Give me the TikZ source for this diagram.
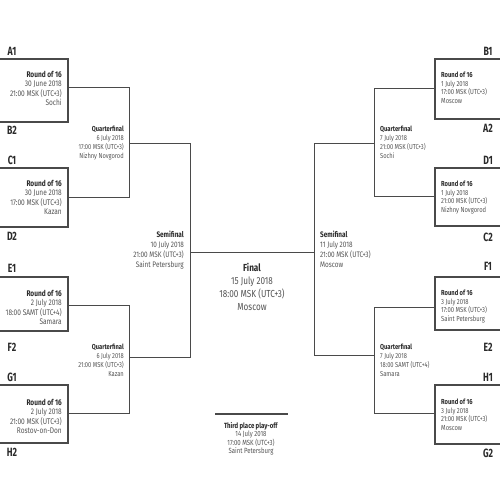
\documentclass[tikz,border=0pt]{standalone}
\usepackage{fontspec}
\setmainfont{Fira Sans}[FakeStretch=0.8]
\newfontfamily\labfont{Fira Sans}[FakeStretch=0.72]
\definecolor{ln}{HTML}{4A4A4A}
\definecolor{tx}{HTML}{555555}
\definecolor{hd}{HTML}{2A2A2A}
\newcommand{\hdr}[1]{\textcolor{hd}{\textbf{#1}}}
\tikzset{
  boxline/.style={draw=ln, line width=1.4pt},
  conn/.style={draw=ln, line width=1.0pt},
  lab/.style={inner sep=0pt, text=hd, font={\labfont\bfseries\fontsize{12}{12}\selectfont}},
  rl/.style={inner sep=0pt, text=tx, align=right, anchor=north east, font={\fontsize{8.2}{9.3}\selectfont}},
  ql/.style={inner sep=0pt, text=tx, align=right, anchor=north east, font={\fontsize{7.2}{9}\selectfont}},
  sl/.style={inner sep=0pt, text=tx, align=right, anchor=north east, font={\fontsize{8}{10}\selectfont}},
  rr/.style={inner sep=0pt, text=tx, align=left, anchor=north west, font={\fontsize{7.3}{8.6}\selectfont}},
  qr/.style={inner sep=0pt, text=tx, align=left, anchor=north west, font={\fontsize{7.2}{9}\selectfont}},
  sr/.style={inner sep=0pt, text=tx, align=left, anchor=north west, font={\fontsize{8}{10}\selectfont}},
  fin/.style={inner sep=0pt, text=tx, align=center, anchor=north, font={\fontsize{10.2}{13}\selectfont}},
  thr/.style={inner sep=0pt, text=tx, align=center, anchor=north, font={\fontsize{7.5}{8.5}\selectfont}}
}
\begin{document}
\begin{tikzpicture}[x=1pt,y=-1pt]
\useasboundingbox (0,0) rectangle (500,500);
\fill[white] (0,0) rectangle (500,500);
% ---------- coordinates, left ----------
\coordinate (A1t) at (0,59);   \coordinate (A1c) at (68,59);  \coordinate (A1d) at (68,122); \coordinate (A1b) at (0,122);
\coordinate (C1t) at (0,168);  \coordinate (C1c) at (68,168); \coordinate (C1d) at (68,227); \coordinate (C1b) at (0,227);
\coordinate (E1t) at (0,277);  \coordinate (E1c) at (68,277); \coordinate (E1d) at (68,331); \coordinate (E1b) at (0,331);
\coordinate (G1t) at (0,385);  \coordinate (G1c) at (68,385); \coordinate (G1d) at (68,443); \coordinate (G1b) at (0,443);
\coordinate (A1o) at (68,88);  \coordinate (C1o) at (68,197);
\coordinate (E1o) at (68,305); \coordinate (G1o) at (68,413);
\coordinate (QL1t) at (129,88);  \coordinate (QL1b) at (129,197); \coordinate (QL1m) at (129,143);
\coordinate (QL2t) at (129,305); \coordinate (QL2b) at (129,413); \coordinate (QL2m) at (129,357);
\coordinate (SLt) at (190,143); \coordinate (SLb) at (190,357); \coordinate (SLm) at (190,252);
% ---------- coordinates, right ----------
\coordinate (B1t) at (500,59);  \coordinate (B1c) at (435,59);  \coordinate (B1d) at (435,119); \coordinate (B1b) at (500,119);
\coordinate (D1t) at (500,168); \coordinate (D1c) at (435,168); \coordinate (D1d) at (435,226); \coordinate (D1b) at (500,226);
\coordinate (F1t) at (500,277); \coordinate (F1c) at (435,277); \coordinate (F1d) at (435,330); \coordinate (F1b) at (500,330);
\coordinate (H1t) at (500,385); \coordinate (H1c) at (435,385); \coordinate (H1d) at (435,444); \coordinate (H1b) at (500,444);
\coordinate (B1o) at (435,89);  \coordinate (D1o) at (435,196);
\coordinate (F1o) at (435,307); \coordinate (H1o) at (435,413);
\coordinate (QR1t) at (374,89);  \coordinate (QR1b) at (374,196); \coordinate (QR1m) at (374,143);
\coordinate (QR2t) at (374,307); \coordinate (QR2b) at (374,413); \coordinate (QR2m) at (374,355);
\coordinate (SRt) at (314,143); \coordinate (SRb) at (314,355); \coordinate (SRm) at (314,252);
\coordinate (TPl) at (215,414); \coordinate (TPr) at (288,414);
% ---------- round of 16 boxes ----------
\foreach \n in {A1,C1,E1,G1,B1,D1,F1,H1}{
  \draw[boxline] (\n t) -- (\n c) -- (\n d) -- (\n b);
}
% ---------- connectors ----------
\draw[conn] (A1o) -- (QL1t) -- (QL1b) -- (C1o);
\draw[conn] (E1o) -- (QL2t) -- (QL2b) -- (G1o);
\draw[conn] (QL1m) -- (SLt) -- (SLb) -- (QL2m);
\draw[conn] (B1o) -- (QR1t) -- (QR1b) -- (D1o);
\draw[conn] (F1o) -- (QR2t) -- (QR2b) -- (H1o);
\draw[conn] (QR1m) -- (SRt) -- (SRb) -- (QR2m);
\draw[conn] (SLm) -- (SRm);
\draw[boxline] (TPl) -- (TPr);
% ---------- team labels ----------
\node[lab] (lA1) at (12,51) {A1};
\node[lab] (lB2) at (12,130) {B2};
\node[lab] (lC1) at (12,160) {C1};
\node[lab] (lD2) at (12,236) {D2};
\node[lab] (lE1) at (12,268) {E1};
\node[lab] (lF2) at (12,347) {F2};
\node[lab] (lG1) at (12,377) {G1};
\node[lab] (lH2) at (12,452) {H2};
\node[lab] (lB1) at (488,51) {B1};
\node[lab] (lA2) at (488,128) {A2};
\node[lab] (lD1) at (488,160) {D1};
\node[lab] (lC2) at (488,237) {C2};
\node[lab] (lF1) at (488,266) {F1};
\node[lab] (lE2) at (488,347) {E2};
\node[lab] (lH1) at (488,377) {H1};
\node[lab] (lG2) at (488,453) {G2};
% ---------- match texts, left ----------
\node[rl] (m1) at (62,71) {\hdr{Round of 16}\\30 June 2018\\21:00 MSK (UTC+3)\\Sochi};
\node[rl] (m2) at (62,180) {\hdr{Round of 16}\\30 June 2018\\17:00 MSK (UTC+3)\\Kazan};
\node[rl] (m3) at (62,290) {\hdr{Round of 16}\\2 July 2018\\18:00 SAMT (UTC+4)\\Samara};
\node[rl] (m4) at (62,399) {\hdr{Round of 16}\\2 July 2018\\21:00 MSK (UTC+3)\\Rostov-on-Don};
\node[ql] (q1) at (124,126.3) {\hdr{Quarterfinal}\\6 July 2018\\17:00 MSK (UTC+3)\\Nizhny Novgorod};
\node[ql] (q2) at (124,344.3) {\hdr{Quarterfinal}\\6 July 2018\\21:00 MSK (UTC+3)\\Kazan};
\node[sl] (s1) at (184,231) {\hdr{Semifinal}\\10 July 2018\\21:00 MSK (UTC+3)\\Saint Petersburg};
% ---------- match texts, right ----------
\node[rr] (m5) at (441,72) {\hdr{Round of 16}\\1 July 2018\\17:00 MSK (UTC+3)\\Moscow};
\node[rr] (m6) at (441,181) {\hdr{Round of 16}\\1 July 2018\\21:00 MSK (UTC+3)\\Nizhny Novgorod};
\node[rr] (m7) at (441,290) {\hdr{Round of 16}\\3 July 2018\\17:00 MSK (UTC+3)\\Saint Petersburg};
\node[rr] (m8) at (441,399) {\hdr{Round of 16}\\3 July 2018\\21:00 MSK (UTC+3)\\Moscow};
\node[qr] (q3) at (380,126.3) {\hdr{Quarterfinal}\\7 July 2018\\21:00 MSK (UTC+3)\\Sochi};
\node[qr] (q4) at (380,344.3) {\hdr{Quarterfinal}\\7 July 2018\\18:00 SAMT (UTC+4)\\Samara};
\node[sr] (s2) at (320,231) {\hdr{Semifinal}\\11 July 2018\\21:00 MSK (UTC+3)\\Moscow};
% ---------- final and third place ----------
\node[fin] (fn) at (252,263.5) {\hdr{Final}\\15 July 2018\\18:00 MSK (UTC+3)\\Moscow};
\node[thr] (tp) at (251,422) {\hdr{Third place play-off}\\14 July 2018\\17:00 MSK (UTC+3)\\Saint Petersburg};
\end{tikzpicture}
\end{document}
